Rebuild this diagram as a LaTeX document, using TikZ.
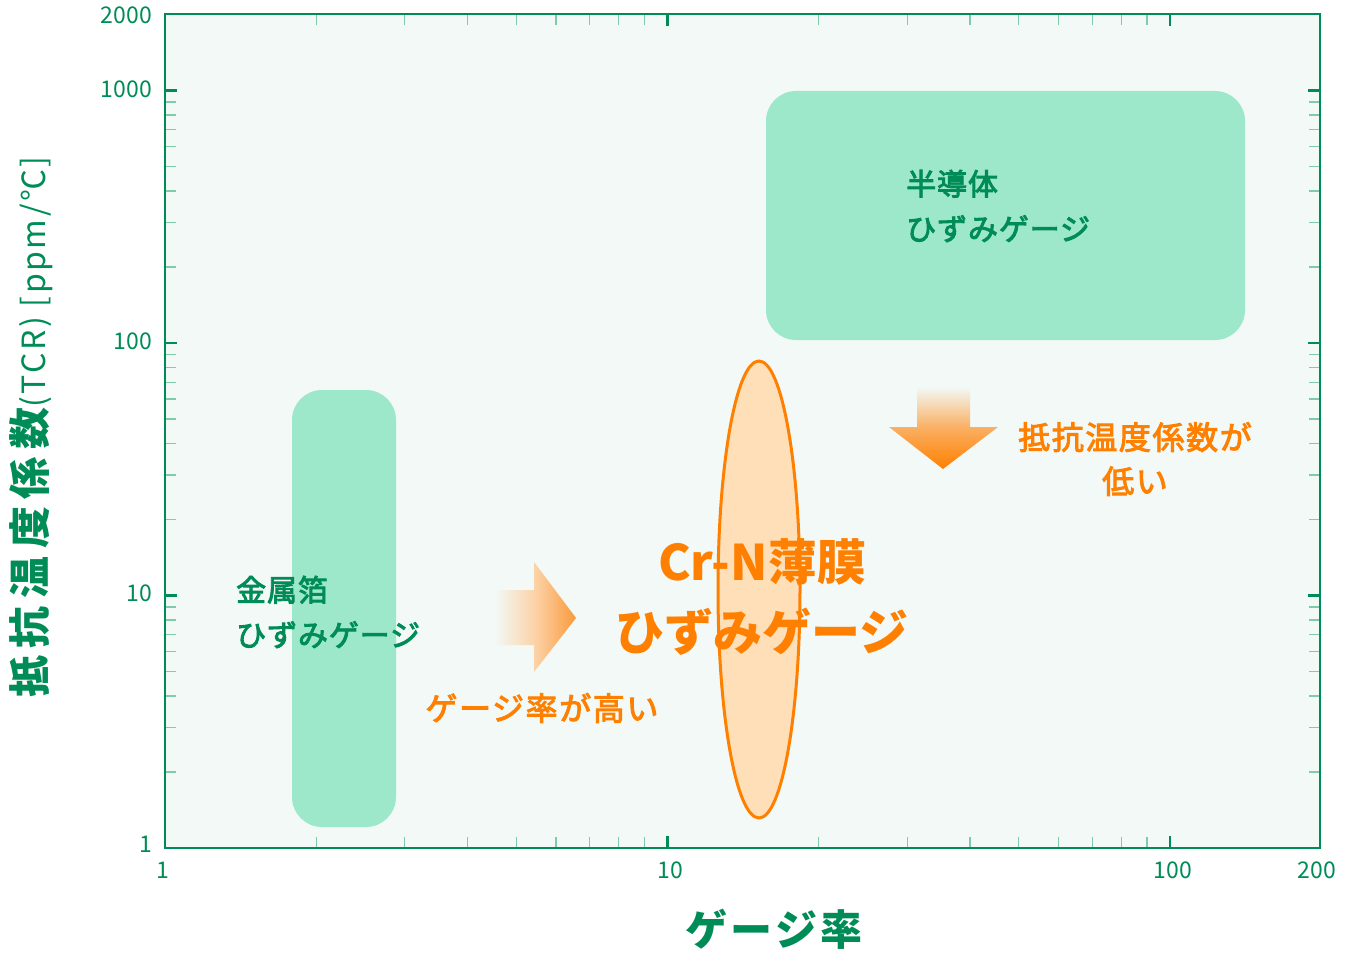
\documentclass[tikz,border=0pt]{standalone}
\usepackage{fontspec}
\setmainfont{Noto Sans CJK JP}
\newfontfamily\jpmed[FakeBold=3]{Noto Sans CJK JP}
\usetikzlibrary{shapes.geometric}
\definecolor{axgreen}{HTML}{008C57}
\definecolor{minorgreen}{HTML}{7FCBAA}
\definecolor{plotbg}{HTML}{F2F9F6}
\definecolor{boxgreen}{HTML}{9DE8CA}
\definecolor{orng}{HTML}{FF8000}
\definecolor{ellfill}{HTML}{FFDFB8}
\definecolor{arrowor}{HTML}{F99A3A}
\tikzset{
  ticklab/.style={text=axgreen, font=\fontsize{23}{26}\selectfont, inner sep=0pt},
  greenlab/.style={text=axgreen, font=\jpmed\fontsize{30}{45}\selectfont\addfontfeature{LetterSpace=3}, align=left, inner sep=0pt},
  orangelab/.style={text=orng, font=\jpmed\fontsize{32}{44}\selectfont\addfontfeature{LetterSpace=5}, align=center, inner sep=0pt},
  bigorange/.style={text=orng, font=\fontsize{49}{70}\selectfont\bfseries, align=center, inner sep=0pt},
  gbox/.style={fill=boxgreen, draw=none, rounded corners=30pt},
  minortick/.style={draw=minorgreen, line width=1.2pt},
  majortick/.style={draw=axgreen, line width=2.2pt},
}
\begin{document}
\begin{tikzpicture}[x=1pt,y=-1pt]
\useasboundingbox (0,0) rectangle (1350,960);
% plot background
\fill[plotbg] (165,14) rectangle (1320,848);
% boxes
\fill[gbox] (292,390) rectangle (396,827);
\fill[gbox] (766,91) rectangle (1245,340);
% ellipse
\node[ellipse, draw=orng, fill=ellfill, line width=3pt, minimum width=82pt, minimum height=457pt, inner sep=0pt] (crn) at (759,589.5) {};
% ticks x
\foreach \v in {2,3,4,5,6,7,8,9,20,30,40,50,60,70,80,90} {
  \pgfmathsetmacro{\xx}{165+502.5*log10(\v)}
  \draw[minortick] (\xx,848) -- (\xx,837);
  \draw[minortick] (\xx,14) -- (\xx,25);
}
\foreach \v in {10,100} {
  \pgfmathsetmacro{\xx}{165+502.5*log10(\v)}
  \draw[majortick] (\xx,848) -- (\xx,836);
  \draw[majortick] (\xx,14) -- (\xx,26);
}
% ticks y
\foreach \v in {2,3,4,5,6,7,8,9,20,30,40,50,60,70,80,90,200,300,400,500,600,700,800,900} {
  \pgfmathsetmacro{\yy}{848-252.5*log10(\v)}
  \draw[minortick] (165,\yy) -- (176,\yy);
  \draw[minortick] (1320,\yy) -- (1309,\yy);
}
\foreach \v in {10,100,1000} {
  \pgfmathsetmacro{\yy}{848-252.5*log10(\v)}
  \draw[majortick] (165,\yy) -- (177,\yy);
  \draw[majortick] (1320,\yy) -- (1308,\yy);
}
% frame
\draw[axgreen, line width=2.5pt] (165,14) rectangle (1320,848);
% y tick labels
\node[ticklab, anchor=east] (y2000) at (152,15) {2000};
\node[ticklab, anchor=east] (y1000) at (152,89) {1000};
\node[ticklab, anchor=east] (y100) at (152,341) {100};
\node[ticklab, anchor=east] (y10) at (152,593) {10};
\node[ticklab, anchor=east] (y1) at (152,844) {1};
% x tick labels
\node[ticklab] (x1) at (163,870) {1};
\node[ticklab] (x10) at (670,870) {10};
\node[ticklab] (x100) at (1173,870) {100};
\node[ticklab] (x200) at (1317,870) {200};
% axis titles
\node[text=axgreen, font=\fontsize{42}{48}\selectfont\bfseries\addfontfeature{LetterSpace=8}, inner sep=0pt] (xtitle) at (774,929) {ゲージ率};
\node[text=axgreen, rotate=90, inner sep=0pt] (ytitle) at (31,427) {{\fontsize{42}{48}\selectfont\bfseries\addfontfeature{LetterSpace=18}抵抗温度係数}{\fontsize{32}{36}\selectfont\addfontfeature{LetterSpace=8}(TCR) [ppm/℃]}};
% arrows
\shade[left color=plotbg, right color=arrowor, middle color=arrowor!45]
  (495,590) -- (534,590) -- (534,562) -- (576,618) -- (534,672) -- (534,645) -- (495,645) -- cycle;
\shade[top color=plotbg, bottom color=orng, middle color=arrowor!80]
  (917,387) -- (970,387) -- (970,427) -- (998,427) -- (943,469) -- (889,427) -- (917,427) -- cycle;
% labels
\node[greenlab, anchor=west] (metal) at (236,612) {金属箔\\ひずみゲージ};
\node[greenlab, anchor=west] (semi) at (906,206) {半導体\\ひずみゲージ};
\node[orangelab] (tcrlow) at (1135,459) {抵抗温度係数が\\低い};
\node[orangelab] (gfhigh) at (542,708) {ゲージ率が高い};
\node[bigorange] (crnlab) at (762,597) {Cr-N薄膜\\ひずみゲージ};
\end{tikzpicture}
\end{document}
